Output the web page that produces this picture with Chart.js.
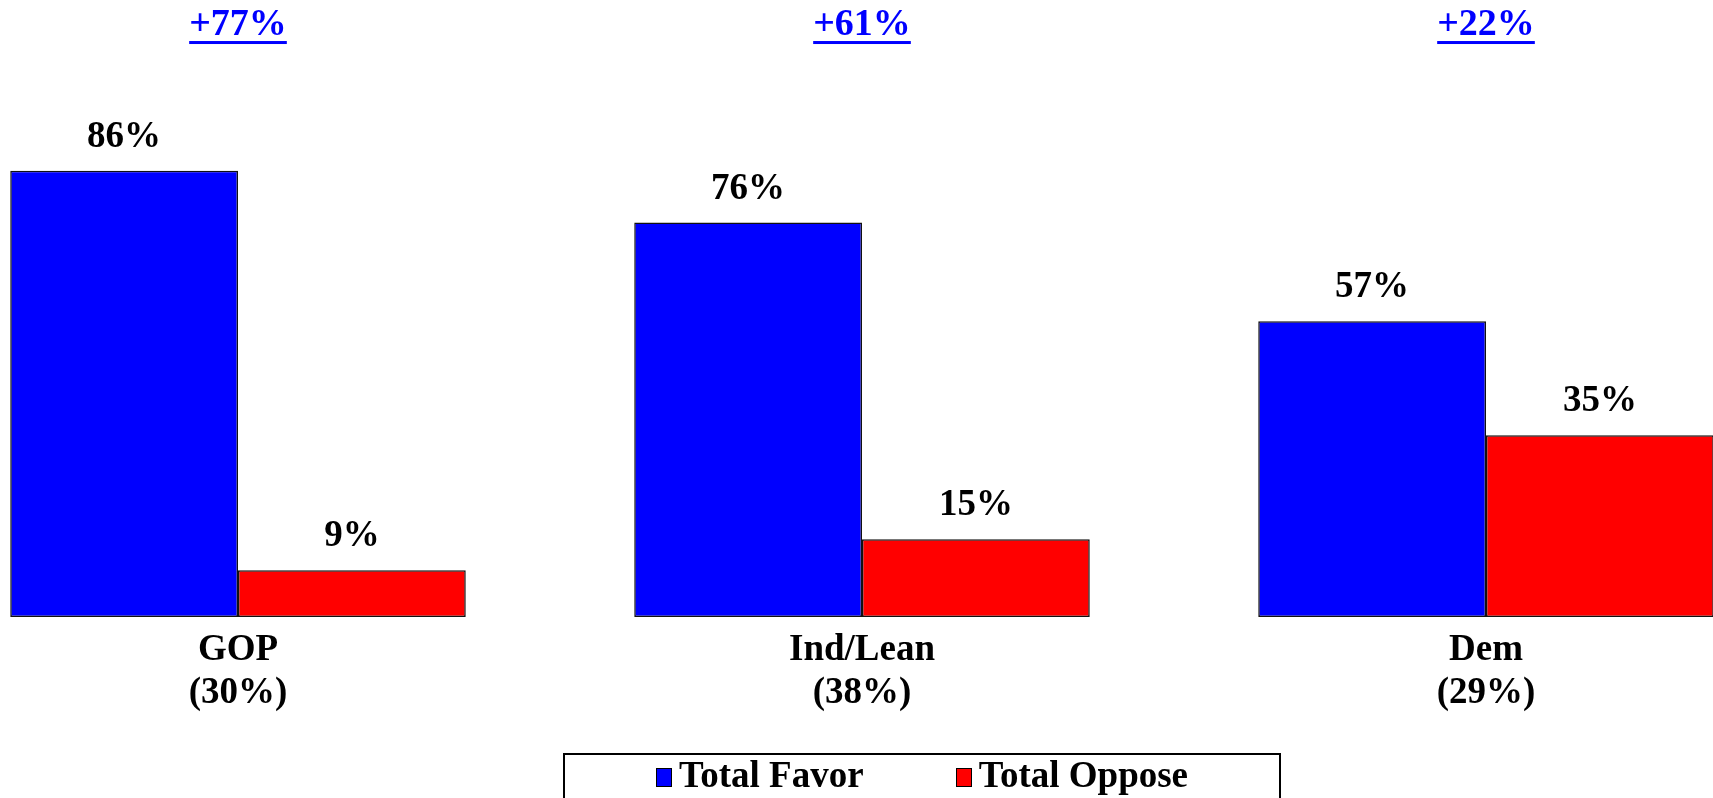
<!DOCTYPE html>
<html>
<head>
<meta charset="utf-8">
<script src="https://cdn.jsdelivr.net/npm/chart.js@4"></script>
<style>
  html, body { margin: 0; padding: 0; background: #fff; }
  body { width: 1713px; height: 798px; overflow: hidden; position: relative; font-family: "Liberation Serif", serif; }
  #wrap { position: absolute; left: -74px; top: 0; width: 1872px; height: 798px; }
  #legend {
    position: absolute; left: 563px; top: 753px; width: 714px; height: 70px;
    border: 2px solid #000; text-align: center; white-space: nowrap;
    font: bold 37px/40px "Liberation Serif", serif; color: #000;
  }
  #legend .item { display: inline-block; margin: 0 46px; }
  #legend .box { display: inline-block; width: 14px; height: 17px; border: 1px solid #000; margin-right: 7px; }
</style>
</head>
<body>
<div id="wrap"><canvas id="chart"></canvas></div>
<div id="legend"></div>
<script>
// Party split: favor vs oppose
const categories = [['GOP', '(30%)'], ['Ind/Lean', '(38%)'], ['Dem', '(29%)']];
const favor = [86, 76, 57];
const oppose = [9, 15, 35];
const spread = ['+77%', '+61%', '+22%'];
const seriesNames = ['Total Favor', 'Total Oppose'];
const seriesColors = ['#0000ff', '#ff0000'];

Chart.defaults.font.family = '"Liberation Serif", serif';
Chart.defaults.font.weight = 'bold';

const TOP_SIZE = 38, TOP_PAD = 50;

// values above bars
const barLabels = {
  id: 'barLabels',
  afterDatasetsDraw(chart) {
    const ctx = chart.ctx;
    ctx.save();
    ctx.font = 'bold 37px "Liberation Serif"';
    ctx.fillStyle = '#000';
    ctx.textAlign = 'center';
    ctx.textBaseline = 'alphabetic';
    chart.data.datasets.forEach((ds, i) => {
      chart.getDatasetMeta(i).data.forEach((bar, j) => {
        ctx.fillText(ds.data[j] + '%', bar.x, bar.y - 24);
      });
    });
    ctx.restore();
  }
};

// underline the spread labels on the top axis
const underline = {
  id: 'underline',
  afterDraw(chart) {
    const s = chart.scales.top;
    const ctx = chart.ctx;
    const base = s.bottom - TOP_PAD - TOP_SIZE * 1.2 / 2 + 0.3375 * TOP_SIZE;
    ctx.save();
    ctx.font = 'bold ' + TOP_SIZE + 'px "Liberation Serif"';
    ctx.fillStyle = '#0000ff';
    spread.forEach((t, i) => {
      const w = ctx.measureText(t).width;
      const x = s.getPixelForTick(i);
      ctx.fillRect(x - w / 2, base + 3, w, 3);
    });
    ctx.restore();
  }
};

const ctx = document.getElementById('chart').getContext('2d');
const chart = new Chart(ctx, {
  type: 'bar',
  data: {
    labels: categories,
    datasets: [
      { label: seriesNames[0], data: favor, backgroundColor: seriesColors[0] },
      { label: seriesNames[1], data: oppose, backgroundColor: seriesColors[1] }
    ]
  },
  options: {
    responsive: true,
    maintainAspectRatio: false,
    animation: false,
    layout: { padding: 0 },
    datasets: {
      bar: {
        categoryPercentage: 0.73,
        barPercentage: 1.0,
        borderColor: '#111',
        borderWidth: 1.5,
        borderSkipped: false
      }
    },
    plugins: { legend: { display: false }, tooltip: { enabled: false } },
    scales: {
      x: {
        position: 'bottom',
        grid: { display: false, drawTicks: false },
        border: { display: false },
        ticks: {
          color: '#000',
          font: { size: 37, weight: 'bold', lineHeight: 1.16 },
          padding: 12,
          maxRotation: 0,
          autoSkip: false
        },
        afterFit(s) { s.height = 181; }
      },
      top: {
        type: 'category',
        position: 'top',
        labels: spread,
        offset: true,
        grid: { display: false, drawTicks: false },
        border: { display: false },
        ticks: {
          color: '#0000ff',
          font: { size: TOP_SIZE, weight: 'bold' },
          padding: TOP_PAD,
          maxRotation: 0,
          autoSkip: false
        },
        afterFit(s) { s.height = 98; }
      },
      y: { display: false, min: 0, max: 100 }
    }
  },
  plugins: [barLabels, underline]
});

// boxed legend under the chart
document.getElementById('legend').innerHTML = seriesNames.map((n, i) =>
  '<span class="item"><span class="box" style="background:' + seriesColors[i] + '"></span>' + n + '</span>'
).join('');
</script>
</body>
</html>
